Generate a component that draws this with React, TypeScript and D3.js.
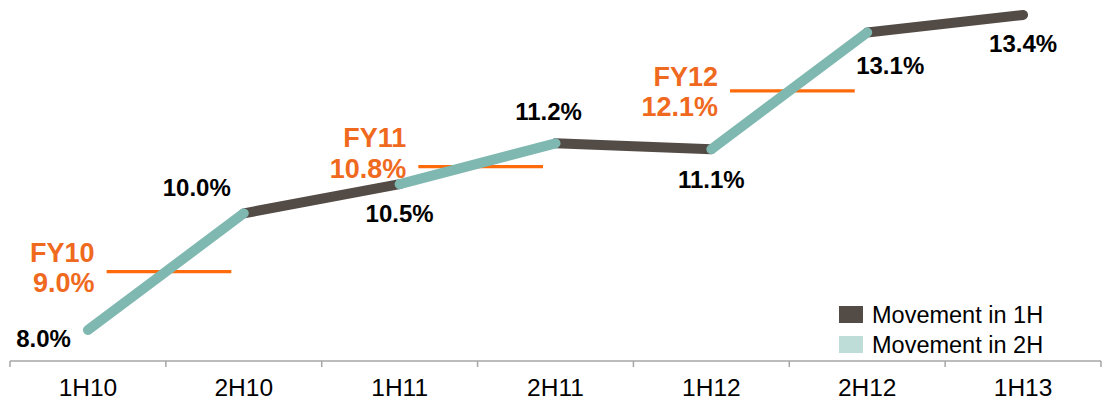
import React from "react";
import * as d3 from "d3";

const categories = ["1H10", "2H10", "1H11", "2H11", "1H12", "2H12", "1H13"];
const values = [8.0, 10.0, 10.5, 11.2, 11.1, 13.1, 13.4];
const fyLabels = ["FY10", "FY11", "FY12"];
const fyValues = [9.0, 10.8, 12.1];
const fyStartIdx = [0, 2, 4];
const legendLabels = ["Movement in 1H", "Movement in 2H"];

// label placement (styling, not data)
const labelOffsets: [number, number, string][] = [
  [-17, 17, "end"],
  [-47, -17, "middle"],
  [0, 38, "middle"],
  [-7, -23, "middle"],
  [0, 39, "middle"],
  [23, 41, "middle"],
  [0, 37, "middle"],
];
const fyTextDy: [number, number][] = [
  [-10, 20],
  [-20, 11],
  [-5, 25],
];

const W = 1102;
const H = 400;
const DARK = "#534B45";
const TEAL = "#7FB8B0";
const TEAL_LIGHT = "#BFDDD8";
const ORANGE = "#EF6A1E";
const ORANGE_LINE = "#FF6A0A";
const FONT = "'Liberation Sans', Arial, sans-serif";

export default function App() {
  const x = d3.scaleBand<string>().domain(categories).range([10, 1101]).padding(0);
  const bw = x.bandwidth();
  const cx = (i: number) => (x(categories[i]) as number) + bw / 2;
  const y = d3.scaleLinear().domain([8, 13.4]).range([330, 15]);
  const axisY = 361;

  const segs = values.slice(1).map((v, i) => ({
    x1: cx(i),
    y1: y(values[i]),
    x2: cx(i + 1),
    y2: y(v),
    second: categories[i + 1].startsWith("2H"),
  }));

  const line = d3.line<[number, number]>();

  return (
    <svg width={W} height={H} style={{ position: "absolute", left: 0, top: 0 }} fontFamily={FONT}>
      {/* axis */}
      <line x1={10} x2={1101} y1={axisY} y2={axisY} stroke="#A6A6A6" strokeWidth={1.5} />
      {d3.range(categories.length + 1).map((i) => {
        const tx = 10 + i * bw;
        return <line key={i} x1={tx} x2={tx} y1={axisY} y2={axisY + 6} stroke="#A6A6A6" strokeWidth={1.5} />;
      })}
      {categories.map((c, i) => (
        <text key={c} x={cx(i)} y={396} textAnchor="middle" fontSize={24.5} fill="#000">
          {c}
        </text>
      ))}

      {/* FY lines */}
      {fyValues.map((v, k) => {
        const i = fyStartIdx[k];
        const xs = cx(i) + 0.12 * bw;
        const xe = cx(i + 1) - 0.08 * bw;
        const yy = y(v);
        return (
          <g key={fyLabels[k]}>
            <line x1={xs} x2={xe} y1={yy} y2={yy} stroke={ORANGE_LINE} strokeWidth={3.2} />
            <text x={xs - 12} y={yy + fyTextDy[k][0]} textAnchor="end" fontSize={27} fontWeight="bold" fill={ORANGE}>
              {fyLabels[k]}
            </text>
            <text x={xs - 12} y={yy + fyTextDy[k][1]} textAnchor="end" fontSize={27} fontWeight="bold" fill={ORANGE}>
              {v.toFixed(1) + "%"}
            </text>
          </g>
        );
      })}

      {/* segments: dark first, teal on top */}
      {segs
        .filter((s) => !s.second)
        .map((s, i) => (
          <path key={"d" + i} d={line([[s.x1, s.y1], [s.x2, s.y2]]) as string} stroke={DARK} strokeWidth={10} strokeLinecap="round" fill="none" />
        ))}
      {segs
        .filter((s) => s.second)
        .map((s, i) => (
          <path key={"t" + i} d={line([[s.x1, s.y1], [s.x2, s.y2]]) as string} stroke={TEAL} strokeWidth={10} strokeLinecap="round" fill="none" />
        ))}

      {/* value labels */}
      {values.map((v, i) => (
        <text
          key={"l" + i}
          x={cx(i) + labelOffsets[i][0]}
          y={y(v) + labelOffsets[i][1]}
          textAnchor={labelOffsets[i][2]}
          fontSize={24}
          fontWeight="bold"
          fill="#000"
        >
          {v.toFixed(1) + "%"}
        </text>
      ))}

      {/* legend */}
      {legendLabels.map((l, i) => (
        <g key={l} transform={`translate(839, ${306 + i * 30})`}>
          <rect width={24} height={17} fill={i === 0 ? DARK : TEAL_LIGHT} />
          <text x={33} y={16.5} fontSize={23.5} fill="#000">
            {l}
          </text>
        </g>
      ))}
    </svg>
  );
}
